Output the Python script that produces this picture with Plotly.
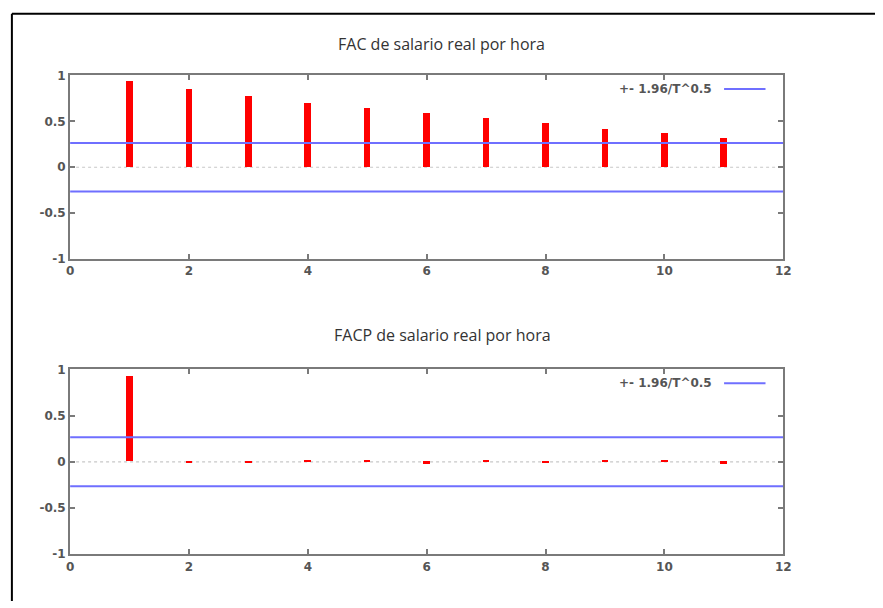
import plotly.graph_objects as go

lags = [1, 2, 3, 4, 5, 6, 7, 8, 9, 10, 11]
fac = [0.935, 0.85, 0.77, 0.70, 0.645, 0.585, 0.53, 0.48, 0.415, 0.37, 0.315]
facp = [0.92, -0.012, -0.01, 0.005, 0.005, -0.025, 0.006, -0.02, 0.006, 0.005, -0.03]
band = 0.265
x_ticks = [0, 2, 4, 6, 8, 10, 12]
y_ticks = [-1, -0.5, 0, 0.5, 1]
y_tick_text = ["-1", "-0.5", "0", "0.5", "1"]
titles = ["FAC de salario real por hora", "FACP de salario real por hora"]
legend_text = "+- 1.96/T^0.5"

W, H = 883, 608
fig = go.Figure()

xd = [67 / W, 790 / W]
yd_top = [1 - 258 / H, 1 - 70 / H]
yd_bot = [1 - 560 / H, 1 - 371 / H]

FONT = "DejaVu Sans"
AXC = "#7a7a7a"
BLUE = "#6f6fff"
TXT = "#555"

for i, (vals, ax) in enumerate([(fac, ""), (facp, "2")]):
    xa = "x" + ax
    ya = "y" + ax
    fig.add_trace(go.Bar(x=lags, y=vals, width=0.11, marker=dict(color="#ff0000", line=dict(width=0)),
                         xaxis=xa, yaxis=ya, showlegend=False))
    for b in (band, -band):
        fig.add_trace(go.Scatter(x=[x_ticks[0], x_ticks[-1]], y=[b, b], mode="lines",
                                 line=dict(color=BLUE, width=2), xaxis=xa, yaxis=ya,
                                 showlegend=False, hoverinfo="skip"))
    # dotted zero line
    fig.add_shape(type="line", xref=xa, yref=ya, x0=x_ticks[0], x1=x_ticks[-1], y0=0, y1=0,
                  line=dict(color="#c8c8c8", width=1.2, dash="dot"), layer="below")
    # legend sample
    fig.add_shape(type="line", xref=xa + " domain", yref=ya + " domain", x0=(730 - 67) / 723,
                  x1=(772 - 67) / 723, y0=1 - 14 / 188, y1=1 - 14 / 188,
                  line=dict(color=BLUE, width=2))
    fig.add_annotation(xref=xa + " domain", yref=ya + " domain", x=(720 - 67) / 723, y=1 - 14 / 188,
                       text="<b>" + legend_text + "</b>", showarrow=False, xanchor="right",
                       yanchor="middle", font=dict(family=FONT, size=12, color=TXT))

axis_common = dict(showline=True, linecolor=AXC, linewidth=2, mirror="ticks", ticks="inside",
                   ticklen=5, tickwidth=1.5, tickcolor=AXC, showgrid=False, zeroline=False,
                   tickfont=dict(family=FONT, size=12, color=TXT, weight="bold"))

fig.update_layout(
    width=W, height=H,
    margin=dict(l=0, r=0, t=0, b=0),
    paper_bgcolor="white", plot_bgcolor="white",
    bargap=0,
    xaxis=dict(domain=xd, range=[0, 12], tickvals=x_ticks, anchor="y", **axis_common),
    yaxis=dict(domain=yd_top, range=[-1, 1], tickvals=y_ticks, ticktext=y_tick_text, anchor="x",
               **axis_common),
    xaxis2=dict(domain=xd, range=[0, 12], tickvals=x_ticks, anchor="y2", **axis_common),
    yaxis2=dict(domain=yd_bot, range=[-1, 1], tickvals=y_ticks, ticktext=y_tick_text, anchor="x2",
                **axis_common),
)

fig.add_annotation(xref="paper", yref="paper", x=444 / W, y=1 - 38 / H, text=titles[0],
                   showarrow=False, xanchor="center", yanchor="middle",
                   font=dict(family="Open Sans", size=16, color="#333"))
fig.add_annotation(xref="paper", yref="paper", x=445 / W, y=1 - 336 / H, text=titles[1],
                   showarrow=False, xanchor="center", yanchor="middle",
                   font=dict(family="Open Sans", size=16, color="#333"))

# outer frame (left and top edges)
fig.add_shape(type="line", xref="paper", yref="paper", x0=8 / W, x1=8 / W, y0=0, y1=1 - 7 / H,
              line=dict(color="black", width=2))
fig.add_shape(type="line", xref="paper", yref="paper", x0=8 / W, x1=1, y0=1 - 7 / H, y1=1 - 7 / H,
              line=dict(color="black", width=2))

fig.write_html("out.html")
